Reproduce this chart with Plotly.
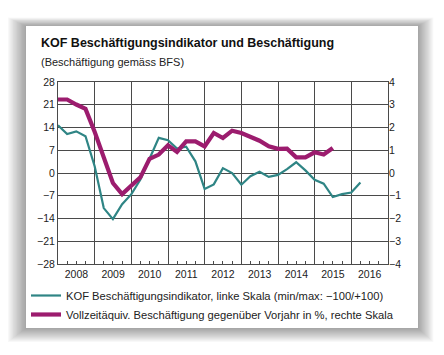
import pandas as pd
import plotly.graph_objects as go

quarters = pd.date_range("2008-01-01", periods=34, freq="QS")

kof_indicator = [14.7, 12.0, 12.8, 11.3, 2.0, -10.8, -14.2, -9.6,
                 -6.5, -2.0, 4.4, 10.8, 10.1, 7.5, 8.1, 3.6,
                 -4.9, -3.5, 1.5, 0.0, -3.6, -1.0, 0.4, -1.2,
                 -0.6, 1.2, 3.3, 0.8, -2.1, -3.3, -7.4, -6.5,
                 -6.0, -2.9]

employment_yoy = [3.23, 3.23, 3.01, 2.82, 1.80, 0.70, -0.44, -0.93,
                  -0.56, -0.19, 0.62, 0.81, 1.22, 0.93, 1.39, 1.39,
                  1.17, 1.76, 1.54, 1.86, 1.76, 1.59, 1.42, 1.17,
                  1.06, 1.07, 0.69, 0.69, 0.91, 0.81, 1.10]

left_ticks = [-28, -21, -14, -7, 0, 7, 14, 21, 28]
right_ticks = [-4, -3, -2, -1, 0, 1, 2, 3, 4]

name_kof = "KOF Beschäftigungsindikator, linke Skala (min/max: \u2212100/+100)"
name_emp = "Vollzeitäquiv. Beschäftigung gegenüber Vorjahr in %, rechte Skala"

TEAL = "#2f8585"
PURPLE = "#9c1c6e"
GRID = "#4a4a4a"
FONT = "Liberation Sans, Arial, sans-serif"

# the page body has an 8px default margin; work in screen coordinates
OFF = 8
W, H = 444 - OFF, 355 - OFF
L, R, T, B = 58, 388, 82, 264          # plot area in screen px
pw, ph = R - L, B - T

def px(xs):
    return (xs - L) / pw

def py(ys):
    return (B - ys) / ph

fig = go.Figure()
fig.add_trace(go.Scatter(x=quarters[:len(kof_indicator)], y=kof_indicator,
                         mode="lines", name=name_kof,
                         line=dict(color=TEAL, width=2.2)))
fig.add_trace(go.Scatter(x=quarters[:len(employment_yoy)], y=employment_yoy,
                         mode="lines", name=name_emp, yaxis="y2",
                         line=dict(color=PURPLE, width=4.2)))

def frame(x0, y0, x1, y1, cx0, cy0, cx1, cy1):
    return (f"M {px(x0)} {py(y0)} L {px(x1)} {py(y0)} L {px(x1)} {py(y1)} L {px(x0)} {py(y1)} Z "
            f"M {px(cx0)} {py(cy0)} L {px(cx0)} {py(cy1)} L {px(cx1)} {py(cy1)} L {px(cx1)} {py(cy0)} Z")

CX0, CY0, CX1, CY1 = 26, 26, 418, 328
shapes = []
for i in range(1, 15):
    shapes.append(dict(type="path", xref="paper", yref="paper",
                       path=frame(CX0 - i * 1.3, CY0 - i * 0.6, CX1 + i * 1.1, CY1 + i * 1.0,
                                  CX0, CY0, CX1, CY1),
                       fillcolor="rgba(0,0,0,0.026)", line=dict(width=0), layer="below"))

annotations = [
    dict(text="<b>KOF Beschäftigungsindikator und Beschäftigung</b>",
         xref="paper", yref="paper", x=px(39), y=py(43), xanchor="left", yanchor="middle",
         showarrow=False, font=dict(size=12.5, color="#111", family=FONT)),
    dict(text="(Beschäftigung gemäss BFS)",
         xref="paper", yref="paper", x=px(39), y=py(62), xanchor="left", yanchor="middle",
         showarrow=False, font=dict(size=11, color="#222", family=FONT)),
]

fig.update_layout(
    width=W, height=H,
    margin=dict(l=L - OFF, r=W - (R - OFF), t=T - OFF, b=H - (B - OFF), autoexpand=False),
    paper_bgcolor="white",
    plot_bgcolor="white",
    font=dict(family=FONT, size=10.5, color="#222"),
    shapes=shapes,
    annotations=annotations,
    showlegend=True,
    legend=dict(x=px(26), y=py(281), xanchor="left", yanchor="top",
                bgcolor="rgba(0,0,0,0)", font=dict(size=11.2, color="#222", family=FONT),
                itemwidth=30, tracegroupgap=0),
    xaxis=dict(type="date", range=["2008-01-01", "2017-01-01"],
               tick0="2008-01-01", dtick="M12", tickformat="%Y",
               ticklabelmode="period", ticks="", showgrid=True,
               gridcolor=GRID, gridwidth=1,
               showline=True, linecolor=GRID, linewidth=1, mirror=True,
               minor=dict(dtick="M3", tick0="2008-01-01", ticks="inside",
                          ticklen=3, tickcolor=GRID, showgrid=False),
               tickfont=dict(size=10.5), zeroline=False, fixedrange=True),
    yaxis=dict(range=[-28, 28], tickvals=left_ticks, ticks="",
               showgrid=True, gridcolor=GRID, gridwidth=1,
               showline=True, linecolor=GRID, linewidth=1, mirror=True,
               zeroline=False, tickfont=dict(size=10.5)),
    yaxis2=dict(range=[-4, 4], tickvals=right_ticks, overlaying="y", side="right",
                showgrid=False, zeroline=False, ticks="", showline=False,
                tickfont=dict(size=10.5)),
)

fig.write_html("out.html")
